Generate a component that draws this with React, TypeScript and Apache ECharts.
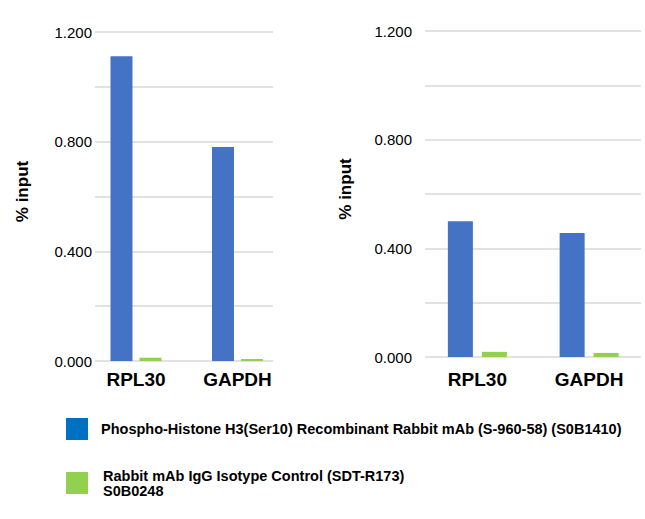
import React, { useEffect, useRef } from "react";
import * as echarts from "echarts";

const categories = ["RPL30", "GAPDH"];
const seriesNames = [
  "Phospho-Histone H3(Ser10) Recombinant Rabbit mAb (S-960-58) (S0B1410)",
  "Rabbit mAb IgG Isotype Control (SDT-R173)\nS0B0248",
];
const leftTarget = [1.112, 0.781];
const leftControl = [0.012, 0.007];
const rightTarget = [0.5, 0.456];
const rightControl = [0.019, 0.015];
const yMax = 1.2;
const yStep = 0.2;
const yLabelStep = 0.4;

const FONT = "'Liberation Sans', Arial, sans-serif";
const BLUE = "#4472C4";
const GREEN = "#92D050";
const LEG_BLUE = "#0070C0";

export default function App() {
  const ref = useRef<HTMLDivElement>(null);
  useEffect(() => {
    if (!ref.current) return;
    const chart = echarts.init(ref.current, null, { renderer: "svg" });
    const fmt = (v: number) =>
      Math.abs(v / yLabelStep - Math.round(v / yLabelStep)) < 1e-6 ? v.toFixed(3) : "";
    const gridAxisY = (gridIndex: number, margin: number, nameGap: number) => ({
      type: "value",
      gridIndex,
      min: 0,
      max: yMax,
      interval: yStep,
      name: "% input",
      nameLocation: "middle",
      nameRotate: 90,
      nameGap,
      nameTextStyle: {
        fontFamily: FONT,
        fontSize: 17,
        fontWeight: "bold",
        color: "#000",
        padding: [0, 0, 0, 10],
      },
      axisLine: { show: false },
      axisTick: { show: false },
      axisLabel: { formatter: fmt, margin, fontFamily: FONT, fontSize: 15, color: "#000" },
      splitLine: { show: true, lineStyle: { color: "#D9D9D9", width: 1.5 } },
    });
    const hiddenY = (gridIndex: number) => ({
      type: "value",
      gridIndex,
      min: 0,
      max: yMax,
      show: false,
      splitLine: { show: false },
    });
    const hiddenX = (gridIndex: number) => ({
      type: "category",
      gridIndex,
      data: categories,
      show: false,
    });
    const barX = (gridIndex: number, margin: number) => ({
      type: "category",
      gridIndex,
      data: categories,
      axisLine: { show: false },
      axisTick: { show: false },
      axisLabel: {
        margin,
        fontFamily: FONT,
        fontSize: 19,
        fontWeight: "bold",
        color: "#000",
        lineHeight: 19,
      },
    });
    const option: any = {
      animation: false,
      backgroundColor: "#fff",
      grid: [
        { left: 95, top: 32, width: 178, height: 329 },
        { left: 85.25, top: 32, width: 203, height: 329 },
        { left: 425, top: 31, width: 216, height: 326 },
        { left: 421.5, top: 31, width: 226, height: 326 },
      ],
      xAxis: [hiddenX(0), barX(1, 9), hiddenX(2), barX(3, 13)],
      yAxis: [gridAxisY(0, 3, 64), hiddenY(1), gridAxisY(2, 13, 71), hiddenY(3)],
      legend: [
        {
          data: [seriesNames[0]],
          left: 61,
          top: 413,
          itemWidth: 22,
          itemHeight: 22,
          icon: "rect",
          selectedMode: false,
          itemStyle: { color: LEG_BLUE },
          textStyle: {
            fontFamily: FONT,
            fontSize: 14.5,
            fontWeight: "bold",
            color: "#000",
            padding: [11, 0, 0, 8],
          },
        },
        {
          data: [seriesNames[1]],
          left: 61,
          top: 460,
          itemWidth: 22,
          itemHeight: 22,
          icon: "rect",
          selectedMode: false,
          itemStyle: { color: GREEN },
          textStyle: {
            fontFamily: FONT,
            fontSize: 14.5,
            fontWeight: "bold",
            color: "#000",
            lineHeight: 15,
            padding: [0, 0, 6, 10],
          },
        },
      ],
      series: [
        {
          type: "bar",
          name: seriesNames[0],
          xAxisIndex: 1,
          yAxisIndex: 1,
          data: leftTarget,
          barWidth: 22,
          barGap: "32%",
          itemStyle: { color: BLUE },
        },
        {
          type: "bar",
          name: seriesNames[1],
          xAxisIndex: 1,
          yAxisIndex: 1,
          data: leftControl,
          barWidth: 22,
          barGap: "32%",
          itemStyle: { color: GREEN },
        },
        {
          type: "bar",
          name: seriesNames[0],
          xAxisIndex: 3,
          yAxisIndex: 3,
          data: rightTarget,
          barWidth: 25,
          barGap: "36%",
          itemStyle: { color: BLUE },
        },
        {
          type: "bar",
          name: seriesNames[1],
          xAxisIndex: 3,
          yAxisIndex: 3,
          data: rightControl,
          barWidth: 25,
          barGap: "36%",
          itemStyle: { color: GREEN },
        },
      ],
    };
    chart.setOption(option);
    return () => chart.dispose();
  }, []);
  return (
    <div
      ref={ref}
      style={{ position: "fixed", left: 0, top: 0, width: 645, height: 519 }}
    />
  );
}
